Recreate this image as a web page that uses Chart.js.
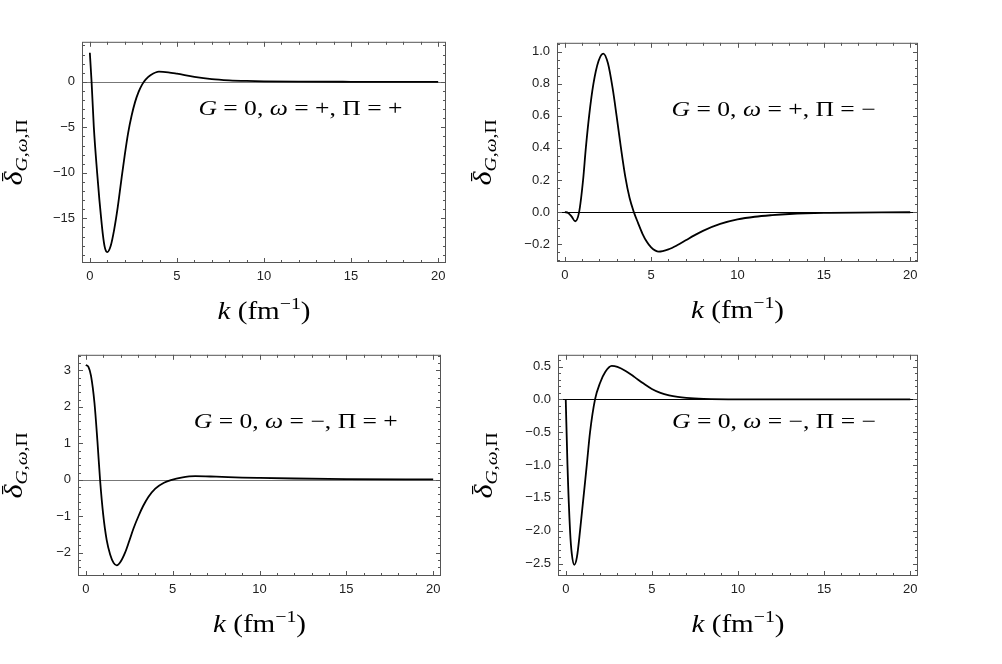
<!DOCTYPE html>
<html>
<head>
<meta charset="utf-8">
<script src="https://cdn.jsdelivr.net/npm/chart.js@4.4.0/dist/chart.umd.min.js"></script>
<style>
    html, body { margin: 0; padding: 0; background: #fff; }
    body { width: 1002px; height: 664px; position: relative; overflow: hidden; }
    canvas { position: absolute; }
</style>
</head>
<body>
<canvas id="c1"></canvas>
<canvas id="c2"></canvas>
<canvas id="c3"></canvas>
<canvas id="c4"></canvas>
<script>
/*========== DATOS ==========*/
// G=0, w=+, Pi=+
const kPP = [0, 0.1, 0.23, 0.42, 0.55, 0.65, 0.75, 0.85, 0.93, 1.0, 1.2, 1.4, 1.6, 1.8, 2.0, 2.2, 2.4, 2.6, 2.8, 3.0, 3.2, 3.5, 3.97, 4.5, 5.0, 6.0, 7.0, 8.0, 9.0, 10, 12, 15, 20];
const dPP = [3.2, 0, -5, -10, -13, -15, -16.8, -18.1, -18.6, -18.7, -18.0, -16.2, -13.8, -10.9, -8.1, -5.6, -3.7, -2.2, -1.1, -0.3, 0.25, 0.75, 1.12, 1.05, 0.9, 0.55, 0.3, 0.17, 0.1, 0.06, 0.025, 0.008, 0];
// G=0, w=+, Pi=-
const kPM = [0, 0.2, 0.4, 0.6, 0.83, 1.06, 1.22, 1.41, 1.66, 1.95, 2.23, 2.5, 2.77, 3.0, 3.25, 3.5, 3.75, 4.0, 4.25, 4.5, 4.75, 5.0, 5.25, 5.44, 6.0, 6.5, 7.0, 7.5, 8.0, 9, 10, 11, 12, 13, 15, 20];
const dPM = [0, -0.005, -0.028, -0.057, 0, 0.2, 0.4, 0.6, 0.8, 0.94, 0.988, 0.927, 0.772, 0.6, 0.402, 0.223, 0.089, 0, -0.07, -0.135, -0.185, -0.22, -0.24, -0.246, -0.232, -0.207, -0.176, -0.145, -0.117, -0.074, -0.046, -0.029, -0.019, -0.012, -0.005, -0.001];
// G=0, w=-, Pi=+
const kMP = [0, 0.15, 0.3, 0.5, 0.67, 0.82, 1.0, 1.2, 1.4, 1.6, 1.78, 2.0, 2.26, 2.5, 2.75, 3.03, 3.3, 3.6, 4.0, 4.5, 4.95, 5.5, 6.3, 7.5, 9, 10, 12, 15, 20];
const dMP = [3.15, 3.1, 2.85, 2.1, 1.05, 0, -0.95, -1.65, -2.05, -2.28, -2.35, -2.25, -2.0, -1.68, -1.33, -1.0, -0.72, -0.47, -0.24, -0.08, 0, 0.06, 0.1, 0.085, 0.06, 0.05, 0.035, 0.02, 0.01];
// G=0, w=-, Pi=-
const kMM = [0, 0.1, 0.25, 0.35, 0.5, 0.65, 0.83, 1.22, 1.41, 1.7, 1.99, 2.3, 2.67, 3.0, 3.5, 4.0, 4.5, 5.0, 5.5, 6.0, 6.5, 7.0, 8.0, 10, 20];
const dMM = [0, -1, -2, -2.35, -2.52, -2.4, -2, -1, -0.5, 0, 0.25, 0.42, 0.51, 0.495, 0.43, 0.34, 0.245, 0.16, 0.1, 0.062, 0.038, 0.024, 0.01, 0.002, 0];

// Marcas de los ejes
const xTicks = [0, 5, 10, 15, 20];
const yTicksPP = [0, -5, -10, -15];
const yTicksPM = [1.0, 0.8, 0.6, 0.4, 0.2, 0.0, -0.2];
const yTicksMP = [3, 2, 1, 0, -1, -2];
const yTicksMM = [0.5, 0.0, -0.5, -1.0, -1.5, -2.0, -2.5];

const MINUS = '\u2212';
const SERIF = '"Liberation Serif", "DejaVu Serif", serif';
const SANS = '"Liberation Sans", Arial, sans-serif';

// Paneles: area del grafico en pixeles de la pagina
const paneles = [
    { id: 'c1', k: kPP, d: dPP, yTicks: yTicksPP, dec: 0, yMin: -19.9, yMax: 4.4, minor: 1,
      w: '+', p: '+', area: { l: 82, t: 39, w: 364, h: 224 }, zero: '#777', yOff: 60 },
    { id: 'c2', k: kPM, d: dPM, yTicks: yTicksPM, dec: 1, yMin: -0.311, yMax: 1.055, minor: 0.05,
      w: '+', p: MINUS, area: { l: 557, t: 40, w: 361, h: 222 }, zero: '#000', yOff: 66 },
    { id: 'c3', k: kMP, d: dMP, yTicks: yTicksMP, dec: 0, yMin: -2.64, yMax: 3.43, minor: 0.2,
      w: MINUS, p: '+', area: { l: 78, t: 352, w: 363, h: 224 }, zero: '#777', yOff: 56 },
    { id: 'c4', k: kMM, d: dMM, yTicks: yTicksMM, dec: 1, yMin: -2.69, yMax: 0.68, minor: 0.1,
      w: MINUS, p: MINUS, area: { l: 558, t: 352, w: 360, h: 224 }, zero: '#000', yOff: 66 }
];

const PAD_L = 90, PAD_T = 12, PAD_R = 14, PAD_B = 70;

// Texto con varios estilos, escalado horizontalmente a un ancho dado
function textoMixto(ctx, segs, cx, baseY, anchoObjetivo) {
    let total = 0;
    segs.forEach(s => { ctx.font = s.f; s.ancho = ctx.measureText(s.t).width; total += s.ancho; });
    const esc = anchoObjetivo ? anchoObjetivo / total : 1;
    ctx.save();
    ctx.translate(cx - total * esc / 2, baseY);
    ctx.scale(esc, 1);
    ctx.textBaseline = 'alphabetic';
    ctx.textAlign = 'left';
    ctx.fillStyle = '#000';
    let x = 0;
    segs.forEach(s => {
        ctx.font = s.f;
        ctx.fillText(s.t, x, s.dy || 0);
        if (s.barra) {
            ctx.fillRect(x + s.ancho * 0.3, -s.barra, s.ancho * 0.6, 1.2);
        }
        x += s.ancho;
    });
    ctx.restore();
}

function formatear(v, dec) {
    return v.toFixed(dec).replace('-', MINUS);
}

const marcoPlugin = {
    id: 'marco',
    beforeDatasetsDraw(chart, args, opts) {
        const ctx = chart.ctx;
        const a = chart.chartArea;
        const ys = chart.scales.y;
        const y0 = Math.round(ys.getPixelForValue(0)) + 0.5;
        ctx.save();
        ctx.strokeStyle = opts.zero;
        ctx.lineWidth = 1;
        ctx.beginPath();
        ctx.moveTo(a.left, y0);
        ctx.lineTo(a.right, y0);
        ctx.stroke();
        ctx.restore();
    },
    afterDraw(chart, args, opts) {
        const ctx = chart.ctx;
        const a = chart.chartArea;
        const xs = chart.scales.x;
        const ys = chart.scales.y;
        ctx.save();
        ctx.strokeStyle = '#555';
        ctx.lineWidth = 1;
        ctx.strokeRect(a.left + 0.5, a.top + 0.5, a.right - a.left - 1, a.bottom - a.top - 1);
        ctx.beginPath();
        // marcas del eje x (abajo y arriba)
        for (let v = 0; v <= 20; v += 1) {
            const px = Math.round(xs.getPixelForValue(v)) + 0.5;
            const len = v % 5 === 0 ? 5 : 3;
            ctx.moveTo(px, a.bottom); ctx.lineTo(px, a.bottom - len);
            ctx.moveTo(px, a.top); ctx.lineTo(px, a.top + len);
        }
        // marcas del eje y (izquierda y derecha)
        const major = opts.yTicks[0] - opts.yTicks[1];
        const n0 = Math.ceil(ys.min / opts.minor - 1e-6);
        const n1 = Math.floor(ys.max / opts.minor + 1e-6);
        for (let n = n0; n <= n1; n++) {
            const v = n * opts.minor;
            const py = Math.round(ys.getPixelForValue(v)) + 0.5;
            const r = Math.abs(v / major - Math.round(v / major));
            const len = r < 1e-6 ? 5 : 3;
            ctx.moveTo(a.left, py); ctx.lineTo(a.left + len, py);
            ctx.moveTo(a.right, py); ctx.lineTo(a.right - len, py);
        }
        ctx.stroke();
        ctx.restore();

        // anotacion G = 0, w = ..., Pi = ...
        textoMixto(ctx, [
            { t: 'G', f: 'italic 21px ' + SERIF },
            { t: ' = 0, ', f: '21px ' + SERIF },
            { t: '\u03c9', f: 'italic 21px ' + SERIF },
            { t: ' = ' + opts.w + ', ', f: '21px ' + SERIF },
            { t: '\u03a0', f: '21px ' + SERIF },
            { t: ' = ' + opts.p, f: '21px ' + SERIF }
        ], a.left + 0.6 * (a.right - a.left), a.top + 73.5, 204);

        // titulo eje x
        textoMixto(ctx, [
            { t: 'k', f: 'italic 25px ' + SERIF },
            { t: ' (fm', f: '25px ' + SERIF },
            { t: MINUS + '1', f: '17px ' + SERIF, dy: -10 },
            { t: ')', f: '25px ' + SERIF }
        ], (a.left + a.right) / 2, a.bottom + 56, 93);

        // titulo eje y (girado)
        ctx.save();
        ctx.translate(a.left - opts.yOff, (a.top + a.bottom) / 2);
        ctx.rotate(-Math.PI / 2);
        textoMixto(ctx, [
            { t: '\u03b4', f: 'italic 26px ' + SERIF, barra: 20 },
            { t: 'G', f: 'italic 17px ' + SERIF, dy: 5 },
            { t: ',', f: '17px ' + SERIF, dy: 5 },
            { t: '\u03c9', f: 'italic 17px ' + SERIF, dy: 5 },
            { t: ',', f: '17px ' + SERIF, dy: 5 },
            { t: '\u03a0', f: '17px ' + SERIF, dy: 5 }
        ], 0, 0, 66);
        ctx.restore();
    }
};

Chart.defaults.font.family = SANS;

paneles.forEach(function(p) {
    const canvas = document.getElementById(p.id);
    canvas.width = p.area.w + PAD_L + PAD_R;
    canvas.height = p.area.h + PAD_T + PAD_B;
    canvas.style.left = (p.area.l - PAD_L) + 'px';
    canvas.style.top = (p.area.t - PAD_T) + 'px';

    const puntos = p.k.map((k, i) => ({ x: k, y: p.d[i] }));

    new Chart(canvas.getContext('2d'), {
        type: 'line',
        data: {
            datasets: [{
                data: puntos,
                borderColor: '#000',
                borderWidth: 1.8,
                pointRadius: 0,
                fill: false,
                cubicInterpolationMode: 'monotone'
            }]
        },
        options: {
            responsive: false,
            animation: false,
            devicePixelRatio: 1,
            layout: { padding: { left: 0, top: PAD_T, right: PAD_R, bottom: 0 } },
            plugins: {
                legend: { display: false },
                tooltip: { enabled: false },
                marco: { zero: p.zero, yTicks: p.yTicks, minor: p.minor, w: p.w, p: p.p, yOff: p.yOff }
            },
            scales: {
                x: {
                    type: 'linear',
                    min: -0.45,
                    max: 20.45,
                    afterBuildTicks: s => { s.ticks = xTicks.map(v => ({ value: v })); },
                    afterFit: s => { s.height = PAD_B; },
                    grid: { display: false, drawTicks: false },
                    border: { display: false },
                    ticks: { color: '#222', font: { size: 13 }, padding: 6, maxRotation: 0,
                             callback: v => formatear(v, 0) }
                },
                y: {
                    type: 'linear',
                    min: p.yMin,
                    max: p.yMax,
                    afterBuildTicks: s => { s.ticks = p.yTicks.map(v => ({ value: v })); },
                    afterFit: s => { s.width = PAD_L; },
                    grid: { display: false, drawTicks: false },
                    border: { display: false },
                    ticks: { color: '#222', font: { size: 13 }, padding: 7,
                             callback: v => formatear(v, p.dec) }
                }
            }
        },
        plugins: [marcoPlugin]
    });
});
</script>
</body>
</html>
